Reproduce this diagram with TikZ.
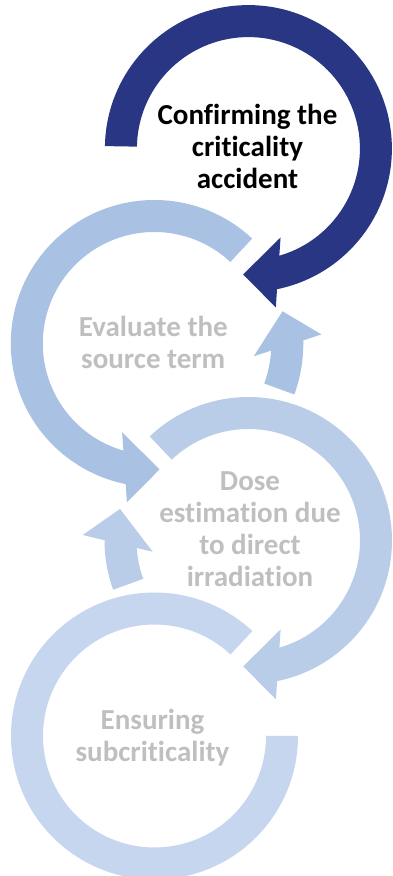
\documentclass[tikz,border=0pt]{standalone}
\usepackage{fontspec}
\setmainfont[Ligatures=NoCommon,RawFeature={-liga;-clig}]{Carlito}
\definecolor{navy}{RGB}{41,54,131}
\definecolor{blueA}{RGB}{169,193,227}
\definecolor{blueB}{RGB}{185,205,232}
\definecolor{blueC}{RGB}{198,214,238}
\definecolor{labelgray}{RGB}{191,191,191}
\begin{document}
\begin{tikzpicture}[x=1pt,y=1pt,
  lbl/.style={align=center,font=\fontsize{29}{32}\selectfont\bfseries,inner sep=0pt}]
\useasboundingbox (0,0) rectangle (393,876);
% circle 4
\begin{scope}[shift={(154.5,140)}]
\fill[blueC] (0:143.5) arc[start angle=0,end angle=-313,radius=143.5] -- (47:111.5) arc[start angle=47,end angle=360,radius=111.5] -- cycle;
\end{scope}
% circle 3 and arrow B
\begin{scope}[shift={(248.5,335.5)}]
\fill[blueB] (133.5:143.5) arc[start angle=133.5,end angle=-78.5,radius=143.5] -- (-80.2:161.2) -- (-92.4:126) -- (-70.1:94.5) -- (-73.9:111.5) arc[start angle=-73.9,end angle=133.5,radius=111.5] -- cycle;
\fill[blueB] (200:144) arc[start angle=200,end angle=179.9,radius=144] -- (178.1:165.9) -- (166.2:132.3) -- (186.7:96.5) -- (183.8:112) arc[start angle=183.8,end angle=200,radius=112] -- cycle;
\end{scope}
% circle 2 and arrow A
\begin{scope}[shift={(154.3,532.5)}]
\fill[blueA] (47:143.5) arc[start angle=47,end angle=258.5,radius=143.5] -- (260.2:161.2) -- (272.4:126) -- (250.1:94.5) -- (253.9:111.5) arc[start angle=253.9,end angle=47,radius=111.5] -- cycle;
\fill[blueA] (-20:117) arc[start angle=-20,end angle=-3.5,radius=117] -- (-7.3:100.3) -- (14.1:132.2) -- (3.1:167.4) -- (1.2:149) arc[start angle=1.2,end angle=-20,radius=149] -- cycle;
\end{scope}
% circle 1
\begin{scope}[shift={(248.4,727.4)}]
\fill[navy] (179:143.5) arc[start angle=179,end angle=-78.5,radius=143.5] -- (-80.2:161.2) -- (-92.4:126) -- (-70.1:94.5) -- (-73.9:111.5) arc[start angle=-73.9,end angle=179,radius=111.5] -- cycle;
\end{scope}
% labels
\node[lbl,text=black] (t1) at (247.5,729.3) {Confirming the\\criticality\\accident};
\node[lbl,text=labelgray] (t2) at (153.3,533.5) {Evaluate the\\source term};
\node[lbl,text=labelgray] (t3) at (250,346.7) {Dose\\estimation due\\to direct\\irradiation};
\node[lbl,text=labelgray] (t4) at (152.5,138.3) {Ensuring\\subcriticality};
\end{tikzpicture}
\end{document}
